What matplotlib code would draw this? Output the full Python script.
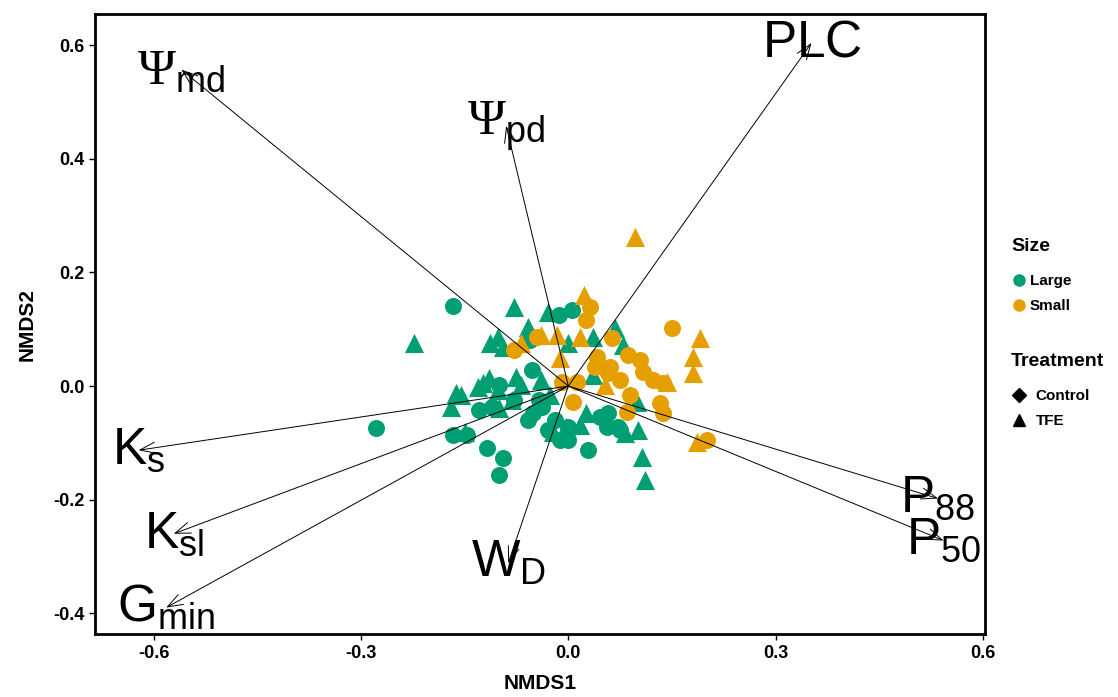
import numpy as np
import matplotlib
matplotlib.use("Agg")
import matplotlib.pyplot as plt
from matplotlib.lines import Line2D

plt.rcParams['font.family'] = ['Liberation Sans', 'DejaVu Sans']
plt.rcParams['mathtext.fontset'] = 'custom'
plt.rcParams['mathtext.rm'] = 'Liberation Serif'
plt.rcParams['mathtext.it'] = 'Liberation Sans'
plt.rcParams['mathtext.sf'] = 'Liberation Sans'

# NMDS site scores, split by Size / Treatment
large_ctrl_x = [-0.167, -0.014, 0.006, -0.279, -0.101, -0.130, -0.110, -0.167, -0.146, -0.117,
                -0.094, -0.101, -0.058, -0.052, -0.079, -0.043, -0.051, -0.012, -0.001, 0.029,
                0.056, 0.075, 0.046, -0.038, 0.058, 0.072, 0.000, -0.055, -0.029, -0.019]
large_ctrl_y = [0.141, 0.125, 0.134, -0.074, 0.002, -0.042, -0.037, -0.086, -0.086, -0.109,
                -0.127, -0.157, -0.060, 0.028, -0.025, -0.025, -0.048, -0.095, -0.072, -0.113,
                -0.072, -0.078, -0.055, -0.037, -0.048, -0.072, -0.095, 0.081, -0.078, -0.060]

large_tfe_x = [-0.079, -0.224, -0.059, -0.030, -0.113, -0.102, -0.095, 0.036, 0.068, 0.079,
               -0.001, -0.163, -0.170, -0.124, -0.115, -0.076, -0.081, -0.101, -0.149, 0.036,
               0.100, 0.101, 0.107, 0.111, 0.025, 0.082, -0.004, -0.022, -0.131, -0.102,
               -0.156, -0.040, -0.026, 0.017, -0.069]
large_tfe_y = [0.139, 0.076, 0.104, 0.130, 0.076, 0.086, 0.069, 0.086, 0.102, 0.072,
               0.076, -0.012, -0.037, 0.005, 0.014, 0.016, -0.025, -0.039, -0.081, 0.019,
               -0.028, -0.078, -0.125, -0.166, -0.048, -0.083, -0.072, -0.081, -0.002, -0.007,
               -0.016, 0.011, -0.016, -0.069, 0.002]

small_ctrl_x = [-0.079, -0.045, 0.032, 0.025, 0.150, 0.063, 0.087, 0.042, 0.061, 0.075,
                0.108, 0.123, 0.137, -0.009, 0.013, 0.007, 0.085, 0.133, 0.137, 0.201,
                0.039, 0.058, 0.104, 0.089]
small_ctrl_y = [0.063, 0.086, 0.139, 0.116, 0.102, 0.085, 0.055, 0.051, 0.033, 0.011,
                0.025, 0.011, 0.005, 0.007, 0.007, -0.028, -0.046, -0.030, -0.048, -0.095,
                0.033, 0.023, 0.046, -0.016]

small_tfe_x = [0.097, 0.022, 0.190, 0.180, 0.180, -0.040, -0.016, 0.017, -0.012, 0.143,
               0.186, -0.069, 0.053]
small_tfe_y = [0.263, 0.160, 0.085, 0.051, 0.023, 0.090, 0.090, 0.086, 0.049, 0.007,
               -0.099, 0.076, 0.002]

# trait vectors
vec_labels = [r'$\mathrm{\Psi}_{\mathsf{md}}$', r'$\mathrm{\Psi}_{\mathsf{pd}}$', r'$\mathsf{PLC}$',
              r'$\mathsf{K}_{\mathsf{s}}$', r'$\mathsf{K}_{\mathsf{sl}}$', r'$\mathsf{G}_{\mathsf{min}}$',
              r'$\mathsf{W}_{\mathsf{D}}$', r'$\mathsf{P}_{\mathsf{88}}$', r'$\mathsf{P}_{\mathsf{50}}$']
vec_x = [-0.560, -0.090, 0.352, -0.622, -0.571, -0.582, -0.087, 0.535, 0.543]
vec_y = [0.557, 0.458, 0.604, -0.113, -0.260, -0.390, -0.312, -0.198, -0.272]

green = '#009E73'
orange = '#E69F00'

fig = plt.figure(figsize=(11.18, 6.97), dpi=100)
ax = fig.add_axes([0.085, 0.090, 0.796, 0.890])

s_c = 150
s_t = 190
ax.scatter(large_ctrl_x, large_ctrl_y, s=s_c, marker='o', color=green, linewidths=0, zorder=2)
ax.scatter(large_tfe_x, large_tfe_y, s=s_t, marker='^', color=green, linewidths=0, zorder=2)
ax.scatter(small_ctrl_x, small_ctrl_y, s=s_c, marker='o', color=orange, linewidths=0, zorder=2)
ax.scatter(small_tfe_x, small_tfe_y, s=s_t, marker='^', color=orange, linewidths=0, zorder=2)

for lab, vx, vy in zip(vec_labels, vec_x, vec_y):
    ax.annotate('', xy=(vx, vy), xytext=(0, 0),
                arrowprops=dict(arrowstyle='->,head_length=1.1,head_width=0.4',
                                color='black', lw=0.7, shrinkA=0, shrinkB=0), zorder=3)
    ax.text(vx, vy, lab, fontsize=37, ha='center', va='center', zorder=4)

ax.set_xlim(-0.685, 0.603)
ax.set_ylim(-0.437, 0.655)
ax.set_xticks([-0.6, -0.3, 0.0, 0.3, 0.6])
ax.set_yticks([-0.4, -0.2, 0.0, 0.2, 0.4, 0.6])
ax.set_xticklabels(['-0.6', '-0.3', '0.0', '0.3', '0.6'])
ax.set_yticklabels(['-0.4', '-0.2', '0.0', '0.2', '0.4', '0.6'])
for lbl in ax.get_xticklabels() + ax.get_yticklabels():
    lbl.set_fontweight('bold')
    lbl.set_fontsize(13)
ax.tick_params(length=4, width=1, color='black')
ax.set_xlabel('NMDS1', fontsize=15, fontweight='bold', labelpad=9)
ax.set_ylabel('NMDS2', fontsize=15, fontweight='bold', labelpad=12)
for sp in ax.spines.values():
    sp.set_linewidth(2)

# legends
size_handles = [Line2D([], [], marker='o', ls='', color=green, markersize=8),
                Line2D([], [], marker='o', ls='', color=orange, markersize=8)]
leg1 = fig.legend(size_handles, ['Large', 'Small'], title='Size', loc='upper left',
                  bbox_to_anchor=(0.899, 0.668), frameon=False, handletextpad=0.2,
                  labelspacing=0.75, borderaxespad=0, handlelength=1.0,
                  prop={'weight': 'bold', 'size': 11},
                  title_fontproperties={'weight': 'bold', 'size': 14})
leg1._legend_box.align = 'left'
leg1._legend_box.sep = 14
trt_handles = [Line2D([], [], marker='D', ls='', color='black', markersize=7),
               Line2D([], [], marker='^', ls='', color='black', markersize=9)]
leg2 = fig.legend(trt_handles, ['Control', 'TFE'], title='Treatment', loc='upper left',
                  bbox_to_anchor=(0.899, 0.503), frameon=False, handletextpad=0.6,
                  labelspacing=0.75, borderaxespad=0, handlelength=1.0,
                  prop={'weight': 'bold', 'size': 11},
                  title_fontproperties={'weight': 'bold', 'size': 14})
leg2._legend_box.align = 'left'
leg2._legend_box.sep = 14

fig.savefig('out.png', dpi=100)
